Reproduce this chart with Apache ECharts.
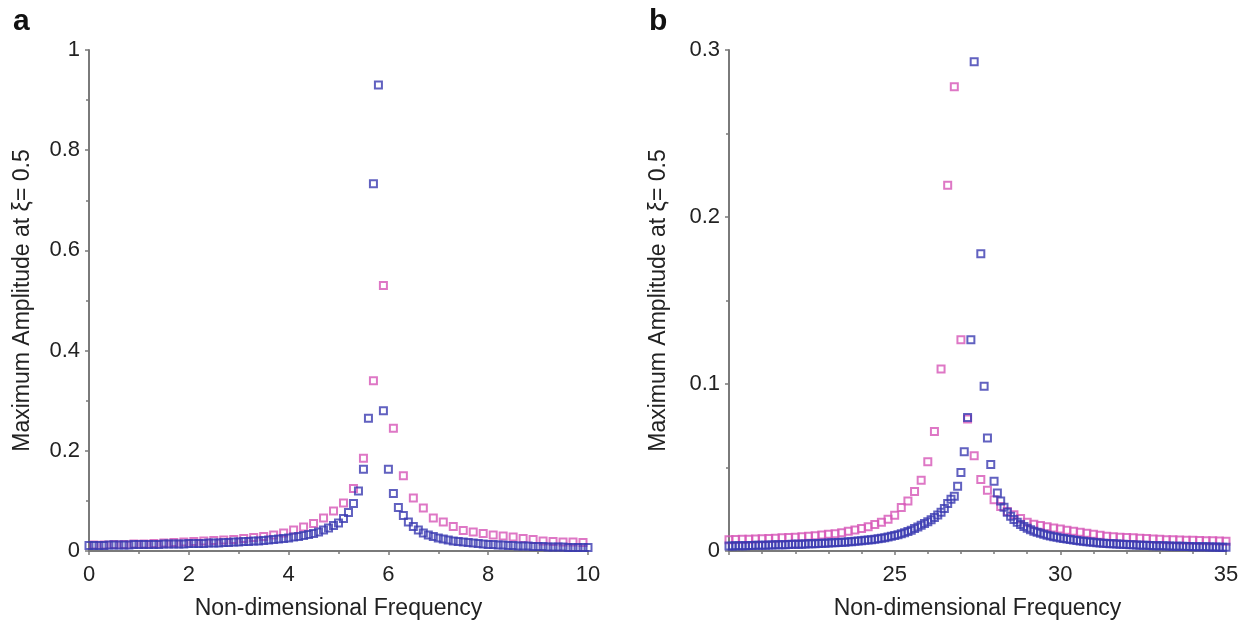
<!DOCTYPE html>
<html>
<head>
<meta charset="utf-8">
<style>
  html, body { margin: 0; padding: 0; background: #fff; }
  #chart { width: 1248px; height: 625px; }
</style>
<script src="https://cdn.jsdelivr.net/npm/echarts@6/dist/echarts.min.js"></script>
</head>
<body>
<div id="chart"></div>
<script>
// panel a: frequency grid (start, step) and amplitudes
const aBlueStart = 0, aBlueStep = 0.1;
const aBlue = [
  0.011, 0.011, 0.011, 0.011, 0.012, 0.012, 0.012, 0.012, 0.012, 0.013, 0.013,
  0.013, 0.013, 0.013, 0.013, 0.014, 0.014, 0.014, 0.014, 0.014, 0.015,
  0.015, 0.015, 0.015, 0.016, 0.016, 0.016, 0.017, 0.017, 0.018, 0.018,
  0.019, 0.019, 0.020, 0.020, 0.021, 0.022, 0.023, 0.024, 0.025, 0.026,
  0.028, 0.029, 0.031, 0.033, 0.035, 0.038, 0.042, 0.046, 0.051, 0.056,
  0.065, 0.077, 0.095, 0.120, 0.163, 0.265, 0.733, 0.930, 0.280, 0.163,
  0.115, 0.087, 0.071, 0.058, 0.049, 0.042, 0.036, 0.032, 0.029, 0.026,
  0.024, 0.022, 0.020, 0.019, 0.018, 0.017, 0.016, 0.015, 0.014, 0.013,
  0.013, 0.012, 0.012, 0.011, 0.011, 0.010, 0.010, 0.010, 0.009, 0.009,
  0.009, 0.008, 0.008, 0.008, 0.008, 0.007, 0.007, 0.007, 0.007, 0.007
];
const aPinkStart = 0.1, aPinkStep = 0.2;
const aPink = [
  0.012, 0.012, 0.013, 0.013, 0.014,
  0.014, 0.015, 0.016, 0.017, 0.018,
  0.019, 0.020, 0.021, 0.022, 0.023,
  0.025, 0.027, 0.029, 0.032, 0.036,
  0.042, 0.048, 0.055, 0.066, 0.080,
  0.096, 0.125, 0.185, 0.340, 0.530,
  0.245, 0.150, 0.106, 0.086, 0.066,
  0.058, 0.049, 0.041, 0.038, 0.035,
  0.032, 0.030, 0.028, 0.025, 0.023,
  0.020, 0.019, 0.018, 0.018, 0.017
];

// panel b
const bBlueStart = 20, bBlueStep = 0.1;
const bBlue = [
  0.0030, 0.0030, 0.0031, 0.0031, 0.0032, 0.0032, 0.0033, 0.0033, 0.0034, 0.0034,
  0.0035, 0.0035, 0.0036, 0.0036, 0.0037, 0.0037, 0.0038, 0.0038, 0.0039, 0.0040,
  0.0040, 0.0041, 0.0041, 0.0042, 0.0043, 0.0043, 0.0044, 0.0045, 0.0046, 0.0047,
  0.0048, 0.0049, 0.0050, 0.0051, 0.0052, 0.0053, 0.0055, 0.0056, 0.0058, 0.0060,
  0.0062, 0.0064, 0.0066, 0.0068, 0.0071, 0.0074, 0.0077, 0.0080, 0.0084, 0.0088,
  0.0093, 0.0098, 0.0104, 0.0110, 0.0117, 0.0125, 0.0134, 0.0144, 0.0154, 0.0165,
  0.0175, 0.0187, 0.0200, 0.0215, 0.0232, 0.0255, 0.0285, 0.0310, 0.0328, 0.0387,
  0.0470, 0.0594, 0.0800, 0.1265, 0.2930, null, 0.1780, 0.0987, 0.0677, 0.0518,
  0.0418, 0.0347, 0.0300, 0.0262, 0.0232, 0.0208, 0.0188, 0.0172, 0.0158, 0.0146,
  0.0136, 0.0127, 0.0119, 0.0112, 0.0106, 0.0100, 0.0095, 0.0090, 0.0086, 0.0082,
  0.0078, 0.0075, 0.0072, 0.0069, 0.0066, 0.0063, 0.0060, 0.0058, 0.0056, 0.0054,
  0.0052, 0.0050, 0.0048, 0.0047, 0.0045, 0.0044, 0.0043, 0.0042, 0.0041, 0.0040,
  0.0039, 0.0038, 0.0037, 0.0036, 0.0035, 0.0034, 0.0034, 0.0033, 0.0032, 0.0032,
  0.0031, 0.0031, 0.0030, 0.0030, 0.0029, 0.0029, 0.0028, 0.0028, 0.0027, 0.0027,
  0.0026, 0.0026, 0.0026, 0.0025, 0.0025, 0.0024, 0.0024, 0.0024, 0.0023, 0.0023, 0.0023
];
const bPinkStart = 20, bPinkStep = 0.2;
const bPink = [
  0.0068, 0.0069, 0.0070, 0.0071, 0.0072, 0.0073, 0.0075, 0.0077, 0.0079, 0.0081,
  0.0083, 0.0086, 0.0089, 0.0092, 0.0096, 0.0100, 0.0104, 0.0110, 0.0118, 0.0126,
  0.0135, 0.0145, 0.0158, 0.0172, 0.0190, 0.0214, 0.0260, 0.0300, 0.0357, 0.0423,
  0.0535, 0.0716, 0.1090, 0.2190, 0.2780, 0.1265, 0.0790, 0.0570, 0.0428, 0.0364,
  0.0307, 0.0267, 0.0237, 0.0217, 0.0194, 0.0172, 0.0160, 0.0152, 0.0145, 0.0138,
  0.0131, 0.0124, 0.0118, 0.0112, 0.0106, 0.0100, 0.0094, 0.0088, 0.0085, 0.0083,
  0.0081, 0.0079, 0.0077, 0.0075, 0.0072, 0.0070, 0.0068, 0.0067, 0.0066, 0.0065,
  0.0064, 0.0063, 0.0062, 0.0061, 0.0060, 0.0059
];

const aXTicks = { min: 0, max: 10, interval: 2 };
const aYTicks = { min: 0, max: 1, interval: 0.2 };
const bXTicks = { min: 20, max: 35, interval: 5 };
const bYTicks = { min: 0, max: 0.3, interval: 0.1 };

const blue = "#3a3ab0";
const pink = "#d655b6";
const font = "Liberation Sans";
const yName = "Maximum Amplitude at ξ= 0.5";
const xName = "Non-dimensional Frequency";

// pair x grid with values, skip points not drawn
function pairs(start, step, vals) {
  const out = [];
  vals.forEach((v, i) => {
    if (v !== null) out.push([+(start + i * step).toFixed(2), v]);
  });
  return out;
}

function xAxis(idx, t, minorSplit, hideFirst) {
  return {
    type: "value",
    gridIndex: idx,
    min: t.min,
    max: t.max,
    interval: t.interval,
    name: xName,
    nameLocation: "middle",
    nameGap: 46,
    nameTextStyle: { fontFamily: font, fontSize: 23, color: "#222" },
    axisLine: { show: true, lineStyle: { color: "#7a7a7a", width: 2 } },
    axisTick: { show: true, length: 4, lineStyle: { color: "#7a7a7a", width: 1.5 } },
    minorTick: { show: true, splitNumber: minorSplit, length: 3, lineStyle: { color: "#7a7a7a", width: 1.5 } },
    splitLine: { show: false },
    axisLabel: {
      fontFamily: font,
      fontSize: 22,
      color: "#222",
      margin: 13,
      formatter: (v) => (hideFirst && v === t.min ? "" : String(v)),
    },
  };
}

function yAxis(idx, t, gap) {
  return {
    type: "value",
    gridIndex: idx,
    min: t.min,
    max: t.max,
    interval: t.interval,
    name: yName,
    nameLocation: "middle",
    nameGap: gap,
    nameTextStyle: { fontFamily: font, fontSize: 23, color: "#222" },
    axisLine: { show: true, lineStyle: { color: "#7a7a7a", width: 2 } },
    axisTick: { show: true, length: 4, lineStyle: { color: "#7a7a7a", width: 1.5 } },
    minorTick: { show: true, splitNumber: 2, length: 3, lineStyle: { color: "#7a7a7a", width: 1.5 } },
    splitLine: { show: false },
    axisLabel: {
      fontFamily: font,
      fontSize: 22,
      color: "#222",
      margin: 9,
      formatter: (v) => String(+v.toFixed(2)),
    },
  };
}

function dots(name, color, idx, data) {
  return {
    name: name,
    type: "scatter",
    xAxisIndex: idx,
    yAxisIndex: idx,
    symbol: "rect",
    symbolSize: 7,
    itemStyle: { color: "rgba(255,255,255,0)", borderColor: color, borderWidth: 2 },
    emphasis: { disabled: true },
    data: data,
  };
}

const chart = echarts.init(document.getElementById("chart"));
chart.setOption({
  animation: false,
  backgroundColor: "#fff",
  grid: [
    { left: 89, right: 660, top: 50, bottom: 72 },
    { left: 729, right: 22, top: 50, bottom: 72 },
  ],
  graphic: [
    { type: "text", left: 13, top: 7, style: { text: "a", fontFamily: font, fontSize: 30, fontWeight: "bold", fill: "#111" } },
    { type: "text", left: 649, top: 7, style: { text: "b", fontFamily: font, fontSize: 30, fontWeight: "bold", fill: "#111" } },
  ],
  xAxis: [xAxis(0, aXTicks, 2, false), xAxis(1, bXTicks, 5, true)],
  yAxis: [yAxis(0, aYTicks, 55), yAxis(1, bYTicks, 59)],
  series: [
    dots("a-pink", pink, 0, pairs(aPinkStart, aPinkStep, aPink)),
    dots("a-blue", blue, 0, pairs(aBlueStart, aBlueStep, aBlue)),
    dots("b-pink", pink, 1, pairs(bPinkStart, bPinkStep, bPink)),
    dots("b-blue", blue, 1, pairs(bBlueStart, bBlueStep, bBlue)),
  ],
});
</script>
</body>
</html>
